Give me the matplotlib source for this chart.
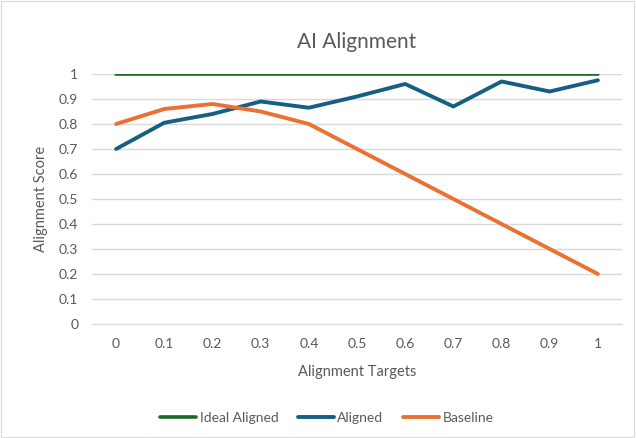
import matplotlib.pyplot as plt
from matplotlib.patches import Rectangle

targets = ['0', '0.1', '0.2', '0.3', '0.4', '0.5', '0.6', '0.7', '0.8', '0.9', '1']
ideal = [1, 1, 1, 1, 1, 1, 1, 1, 1, 1, 1]
aligned = [0.70, 0.805, 0.84, 0.89, 0.865, 0.91, 0.96, 0.87, 0.97, 0.93, 0.975]
baseline = [0.80, 0.86, 0.88, 0.85, 0.80, 0.70, 0.60, 0.50, 0.40, 0.30, 0.20]
y_ticks = [0, 0.1, 0.2, 0.3, 0.4, 0.5, 0.6, 0.7, 0.8, 0.9, 1]

TEXT_COLOR = '#595959'
GRID_COLOR = '#d9d9d9'

plt.rcParams['font.family'] = ['Lato', 'DejaVu Sans']

fig = plt.figure(figsize = (6.36, 4.38), dpi = 100)
fig.patches.append(Rectangle((0.002, 0.003), 0.995, 0.994, transform = fig.transFigure,
                             fill = False, edgecolor = GRID_COLOR, linewidth = 0.8))
ax = fig.add_axes([0.1447, 0.2603, 0.8333, 0.5708])

x_pos = range(len(targets))
ax.plot(x_pos, ideal, color = '#196B24', linewidth = 2.6, label = 'Ideal Aligned', solid_capstyle = 'round')
ax.plot(x_pos, aligned, color = '#156082', linewidth = 2.8, label = 'Aligned', solid_capstyle = 'round')
ax.plot(x_pos, baseline, color = '#E97132', linewidth = 2.8, label = 'Baseline', solid_capstyle = 'round')

ax.set_xlim(-0.5, len(targets) - 0.5)
ax.set_ylim(0, 1)
ax.set_yticks(y_ticks)
ax.set_yticklabels([f'{v:g}' for v in y_ticks])
ax.set_xticks(list(x_pos))
ax.set_xticklabels(targets)
ax.yaxis.grid(True, color = GRID_COLOR, linewidth = 1)
ax.set_axisbelow(True)
for side in ['top', 'right', 'left']:
    ax.spines[side].set_visible(False)
ax.spines['bottom'].set_color(GRID_COLOR)
ax.tick_params(axis = 'both', length = 0, colors = TEXT_COLOR, labelsize = 10)
ax.tick_params(axis = 'x', pad = 10)
ax.tick_params(axis = 'y', pad = 10)

ax.set_title('AI Alignment', color = TEXT_COLOR, fontsize = 15, pad = 19)
ax.set_xlabel('Alignment Targets', color = TEXT_COLOR, fontsize = 10.5, labelpad = 11)
ax.set_ylabel('Alignment Score', color = TEXT_COLOR, fontsize = 10.5, labelpad = 8)

ax.legend(loc = 'center', bbox_to_anchor = (0.443, -0.375), ncol = 3, frameon = False,
          fontsize = 10, labelcolor = TEXT_COLOR, handlelength = 2.6, handletextpad = 0.25,
          columnspacing = 1.4)

fig.savefig('out.png', dpi = 100)
